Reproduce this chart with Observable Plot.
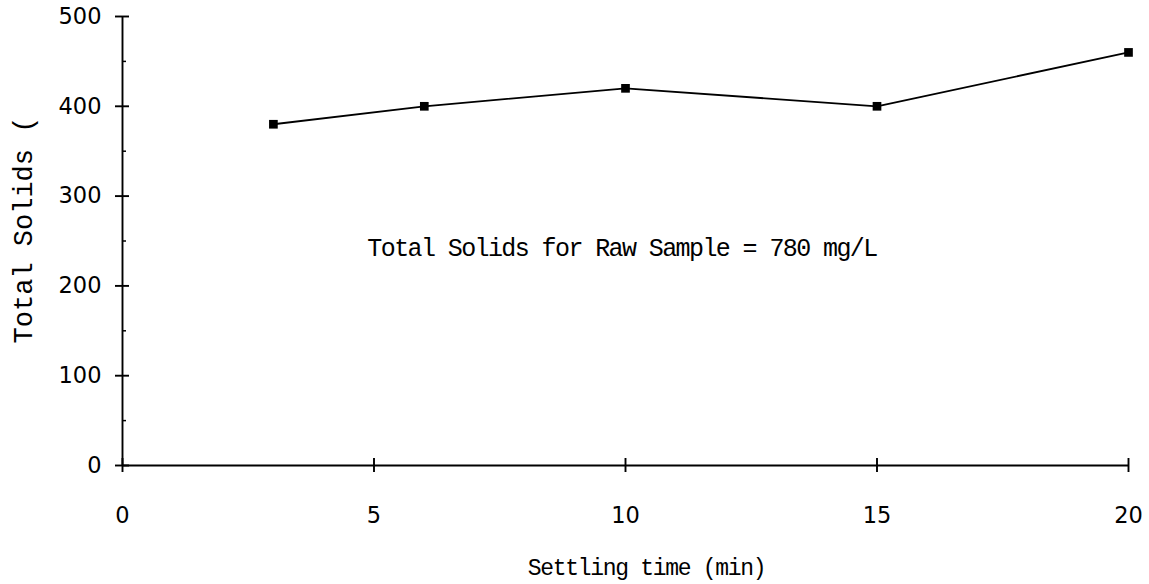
<!DOCTYPE html>
<html>
<head>
<meta charset="utf-8">
<script src="https://cdn.jsdelivr.net/npm/d3@7"></script>
<script src="https://cdn.jsdelivr.net/npm/@observablehq/plot@0.6"></script>
<style>
  html, body { margin: 0; padding: 0; background: #fff; }
  #chart svg { display: block; }
</style>
</head>
<body>
<div id="chart"></div>
<script>
// Data
const settlingTime = [3, 6, 10, 15, 20];          // min
const totalSolids  = [380, 400, 420, 400, 460];    // mg/L
const xTicks = [0, 5, 10, 15, 20];
const yTicks = [0, 100, 200, 300, 400, 500];
const yMinorTicks = [50, 150, 250, 350, 450];
const xLabel = "Settling time (min)";
const yLabel = "Total Solids (";
const note = "Total Solids for Raw Sample = 780 mg/L";
const noteX = [9.93];
const noteY = [242];

const data = settlingTime.map((t, i) => ({t, s: totalSolids[i]}));

const chart = Plot.plot({
  width: 1149,
  height: 584,
  marginLeft: 122,
  marginRight: 21,
  marginTop: 16,
  marginBottom: 119,
  style: {background: "#fff", color: "#000"},
  x: {domain: [0, 20]},
  y: {domain: [0, 500]},
  marks: [
    // axis lines
    Plot.ruleY([0], {x1: 0, x2: 20, stroke: "#000", strokeWidth: 1.9}),
    Plot.ruleX([0], {y1: 0, y2: 500, stroke: "#000", strokeWidth: 1.9}),
    // crossing major ticks
    Plot.ruleX(xTicks, {x: d => d, y1: 0, y2: 0, insetTop: -7, insetBottom: -7, stroke: "#000", strokeWidth: 1.9}),
    Plot.ruleY(yTicks, {y: d => d, x1: 0, x2: 0, insetLeft: -7, insetRight: -7, stroke: "#000", strokeWidth: 1.9}),
    // minor y ticks (inside)
    Plot.ruleY(yMinorTicks, {y: d => d, x1: 0, x2: 0, insetRight: -4, stroke: "#000", strokeWidth: 1.5}),
    // tick labels
    Plot.axisX({ticks: xTicks, tickSize: 0, tickPadding: 42, fontSize: 22.5, fontFamily: "DejaVu Sans", label: null}),
    Plot.axisY({ticks: yTicks, tickSize: 0, tickPadding: 21, fontSize: 22.5, fontFamily: "DejaVu Sans", label: null}),
    // axis titles
    Plot.text([xLabel], {frameAnchor: "bottom", dx: 21, dy: 109, fontSize: 23, fontFamily: "Liberation Mono", fill: "#000"}),
    Plot.text([yLabel], {frameAnchor: "left", textAnchor: "middle", rotate: -90, dx: -99, dy: -11, fontSize: 27, fontFamily: "Liberation Mono", fill: "#000"}),
    // series
    Plot.line(data, {x: "t", y: "s", stroke: "#000", strokeWidth: 1.8}),
    Plot.dot(data, {x: "t", y: "s", symbol: "square", r: 4.9, fill: "#000", stroke: "none"}),
    // annotation
    Plot.text([note], {x: () => noteX[0], y: () => noteY[0], fontSize: 25, fontFamily: "Liberation Mono", fill: "#000"})
  ]
});
const svg = d3.select(chart);
svg.selectAll("text").filter(function() { return this.textContent === note; }).attr("letter-spacing", "-1.6px");
svg.selectAll("text").filter(function() { return this.textContent === xLabel; }).attr("letter-spacing", "-1.3px");
document.getElementById("chart").appendChild(chart);
</script>
</body>
</html>
